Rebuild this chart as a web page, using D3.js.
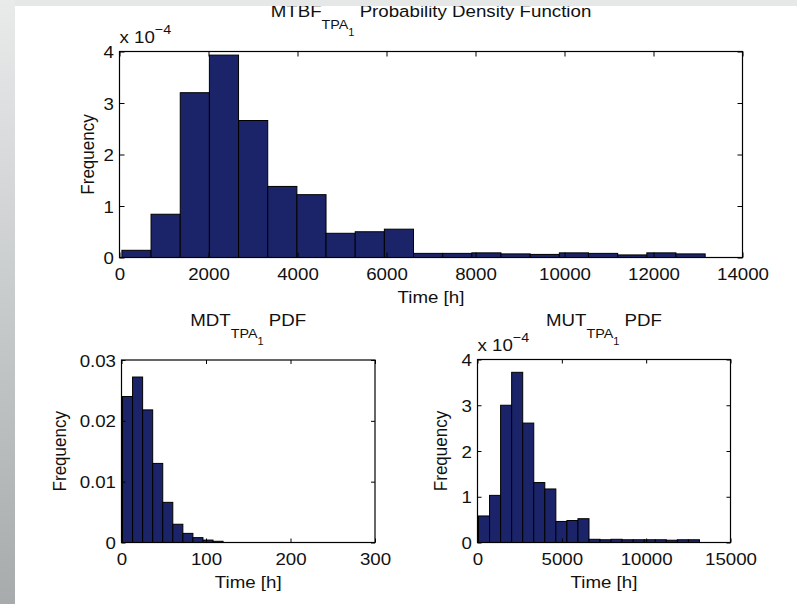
<!DOCTYPE html>
<html>
<head>
<meta charset="utf-8">
<script src="https://cdn.jsdelivr.net/npm/d3@7"></script>
<style>
    body { margin: 0; background: #fff; }
    svg { display: block; }
    text { font-family: "Liberation Sans", Arial, Helvetica, sans-serif; fill: #111; }
</style>
</head>
<body>
<div id="chart"></div>
<script>

// ---- data ----

// MTBF histogram: bin edges [h] and density (x 1e-4)
let mtbfEdges = [54, 709, 1365, 2020, 2675, 3331, 3986, 4641, 5297, 5952, 6607,
    7263, 7918, 8573, 9229, 9884, 10539, 11195, 11850, 12505, 13161];
let mtbfDensity = [0.14, 0.84, 3.20, 3.93, 2.66, 1.38, 1.22, 0.47, 0.50, 0.55,
    0.08, 0.08, 0.09, 0.07, 0.06, 0.09, 0.08, 0.05, 0.09, 0.07];

// MDT histogram: bin edges [h] and density
let mdtEdges = [1.2, 13.1, 25.0, 36.9, 48.8, 60.7, 72.6, 84.5, 96.4, 108.3, 120.2,
    132.1, 144.0, 155.9, 167.8, 179.7, 191.6, 203.5, 215.4, 227.3, 239.2];
let mdtDensity = [0.0240, 0.0272, 0.0218, 0.0130, 0.0066, 0.0030, 0.0015, 0.0008, 0.0004, 0.0002,
    0, 0, 0, 0, 0, 0, 0, 0, 0, 0];

// MUT histogram: bin edges [h] and density (x 1e-4)
let mutEdges = [60, 715, 1370, 2025, 2680, 3335, 3990, 4645, 5300, 5955, 6610,
    7265, 7920, 8575, 9230, 9885, 10540, 11195, 11850, 12505, 13160];
let mutDensity = [0.58, 1.03, 3.00, 3.72, 2.61, 1.31, 1.17, 0.46, 0.48, 0.52,
    0.07, 0.06, 0.07, 0.06, 0.06, 0.06, 0.06, 0.05, 0.06, 0.06];

// tick values
let mtbfXTicks = [0, 2000, 4000, 6000, 8000, 10000, 12000, 14000];
let mtbfYTicks = [0, 1, 2, 3, 4];
let mdtXTicks = [0, 100, 200, 300];
let mdtYTicks = [0, 0.01, 0.02, 0.03];
let mutXTicks = [0, 5000, 10000, 15000];
let mutYTicks = [0, 1, 2, 3, 4];

// ---- drawing ----

const W = 800, H = 604;
const SX = 1.1;           // picture text looks a bit wider than tall
const FS = 17;            // base font size
const barFill = "#1b2469";

let svg = d3.select("#chart").append("svg")
    .attr("width", W)
    .attr("height", H);

// grey frame on left / top edge of the screenshot
let defs = svg.append("defs");
let grad = defs.append("linearGradient")
    .attr("id", "leftStrip")
    .attr("x1", 0).attr("y1", 0).attr("x2", 0).attr("y2", 1);
grad.append("stop").attr("offset", "0%").attr("stop-color", "#e9ebeb");
grad.append("stop").attr("offset", "100%").attr("stop-color", "#a7abac");

// text helper, keeps the slightly stretched look of the picture
function label(parent, x, y, anchor, rotate) {
    let t = parent.append("text")
        .attr("text-anchor", anchor)
        .style("font-size", FS + "px");
    if (rotate) {
        t.attr("transform", `translate(${x},${y}) rotate(-90) scale(1,${SX})`);
    } else {
        t.attr("transform", `translate(${x},${y}) scale(${SX},1)`);
    }
    return t;
}

// title with the TPA_1 subscript
function subTitle(parent, x, y, pre, post) {
    let t = label(parent, x, y, "middle", false);
    t.append("tspan").text(pre);
    t.append("tspan").attr("dy", 12).style("font-size", "13px").text("TPA");
    t.append("tspan").attr("dy", 7).style("font-size", "10px").text("1");
    t.append("tspan").attr("dy", -19).text(post);
    return t;
}

function exponent(parent, x, y) {
    let t = label(parent, x, y, "start", false);
    t.append("tspan").text("x 10");
    t.append("tspan").attr("dy", -9).style("font-size", "13px").text("\u22124");
}

function drawHist(cfg) {
    let g = svg.append("g")
        .attr("transform", `translate(${cfg.left},${cfg.top})`);
    let w = cfg.right - cfg.left, h = cfg.bottom - cfg.top;

    let x = d3.scaleLinear().domain(cfg.xDomain).range([0, w]);
    let y = d3.scaleLinear().domain(cfg.yDomain).range([h, 0]);

    let bins = cfg.values.map((v, i) => ({x0: cfg.edges[i], x1: cfg.edges[i + 1], v: v}));

    g.selectAll("rect.bar")
        .data(bins)
        .enter()
        .append("rect")
        .attr("class", "bar")
        .attr("x", d => x(d.x0))
        .attr("y", d => y(d.v))
        .attr("width", d => x(d.x1) - x(d.x0))
        .attr("height", d => h - y(d.v))
        .attr("fill", barFill)
        .attr("stroke", "#000")
        .attr("stroke-width", 1);

    let tl = cfg.tick;

    // axes: ticks pointing inward (matlab style), labels outside
    let xAxis = g.append("g").attr("transform", `translate(0,${h})`)
        .call(d3.axisBottom(x).tickValues(cfg.xTicks).tickSize(-tl).tickPadding(6).tickFormat(cfg.xFormat));
    let xTop = g.append("g")
        .call(d3.axisTop(x).tickValues(cfg.xTicks).tickSize(-tl).tickFormat(""));
    let yAxis = g.append("g")
        .call(d3.axisLeft(y).tickValues(cfg.yTicks).tickSize(-tl).tickPadding(5).tickFormat(cfg.yFormat));
    let yRight = g.append("g").attr("transform", `translate(${w},0)`)
        .call(d3.axisRight(y).tickValues(cfg.yTicks).tickSize(-tl).tickFormat(""));

    [xAxis, xTop, yAxis, yRight].forEach(a => {
        a.select(".domain").remove();
        a.selectAll("line").attr("stroke", "#000").attr("stroke-width", 1);
    });

    xAxis.selectAll("text")
        .style("font-size", FS + "px")
        .attr("dy", "0.95em")
        .attr("transform", `scale(${SX},1)`);
    yAxis.selectAll("text")
        .style("font-size", FS + "px")
        .attr("dy", "0.36em")
        .attr("transform", `scale(${SX},1)`);

    // box
    g.append("rect")
        .attr("width", w).attr("height", h)
        .attr("fill", "none")
        .attr("stroke", "#000")
        .attr("stroke-width", 1.2);

    // labels
    label(svg, (cfg.left + cfg.right) / 2, cfg.bottom + cfg.xLabelDy, "middle", false).text("Time [h]");
    label(svg, cfg.left - cfg.yLabelDx, (cfg.top + cfg.bottom) / 2, "middle", true).text("Frequency");
    subTitle(svg, (cfg.left + cfg.right) / 2 + cfg.titleDx, cfg.titleY, cfg.titlePre, cfg.titlePost);
    if (cfg.exp) exponent(svg, cfg.left, cfg.top - 9);
}

// top panel
drawHist({
    left: 119.5, right: 742.5, top: 51.5, bottom: 257.5,
    edges: mtbfEdges, values: mtbfDensity,
    xDomain: [0, 14000], yDomain: [0, 4],
    xTicks: mtbfXTicks, yTicks: mtbfYTicks,
    xFormat: d3.format("d"), yFormat: d3.format("d"),
    tick: 5, xLabelDy: 45, yLabelDx: 26,
    titlePre: "MTBF", titlePost: " Probability Density Function",
    titleY: 17, titleDx: 0, exp: true
});

// bottom left panel
drawHist({
    left: 121.5, right: 375, top: 360, bottom: 542.5,
    edges: mdtEdges, values: mdtDensity,
    xDomain: [0, 300], yDomain: [0, 0.03],
    xTicks: mdtXTicks, yTicks: mdtYTicks,
    xFormat: d3.format("d"), yFormat: d => d === 0 ? "0" : d3.format(".2f")(d),
    tick: 4, xLabelDy: 45, yLabelDx: 56,
    titlePre: "MDT", titlePost: " PDF",
    titleY: 326, titleDx: 0, exp: false
});

// bottom right panel
drawHist({
    left: 477.5, right: 730.5, top: 359.5, bottom: 542.5,
    edges: mutEdges, values: mutDensity,
    xDomain: [0, 15000], yDomain: [0, 4],
    xTicks: mutXTicks, yTicks: mutYTicks,
    xFormat: d3.format("d"), yFormat: d3.format("d"),
    tick: 4, xLabelDy: 45, yLabelDx: 31,
    titlePre: "MUT", titlePost: " PDF",
    titleY: 326, titleDx: 0, exp: true
});

// frame strips drawn last (they cover the top of the title)
svg.append("rect").attr("x", 0).attr("y", 0).attr("width", 797).attr("height", 6).attr("fill", "#e6e8e8");
svg.append("rect").attr("x", 0).attr("y", 0).attr("width", 15).attr("height", H).attr("fill", "url(#leftStrip)");

</script>
</body>
</html>
